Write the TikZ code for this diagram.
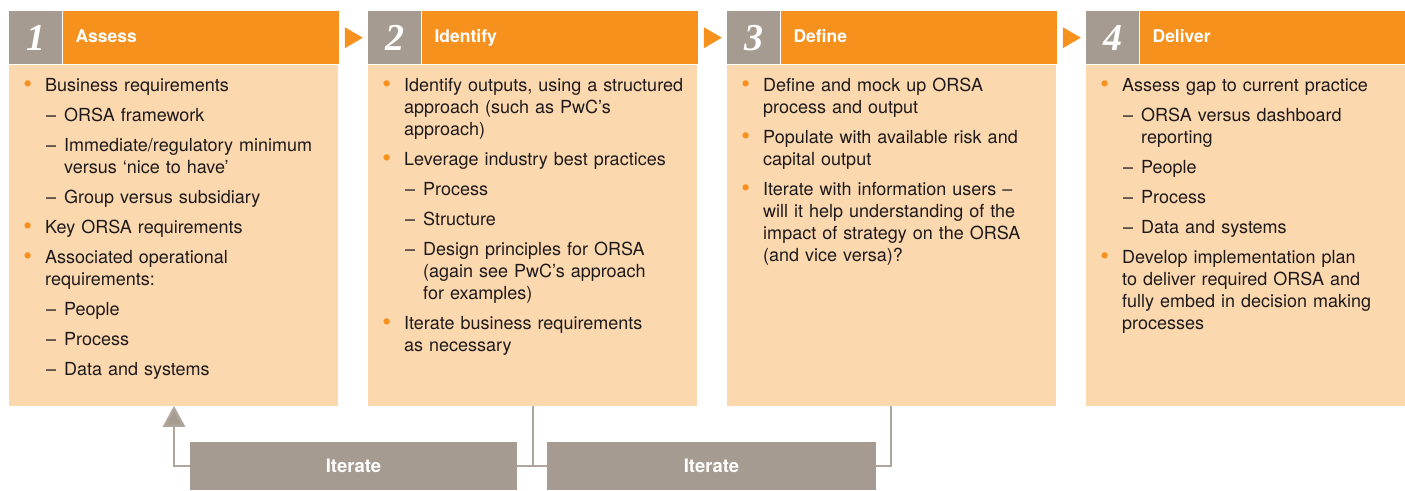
\documentclass[tikz,border=0pt]{standalone}
\usepackage{fontspec}
\setmainfont{TeX Gyre Heros}
\newfontfamily\stepnumfont{Liberation Serif}
\usetikzlibrary{arrows.meta,positioning}

\definecolor{pwcorange}{HTML}{F7911E}
\definecolor{pwcpeach}{HTML}{FCD8AF}
\definecolor{pwcgrey}{HTML}{A69B91}
\definecolor{pwcline}{HTML}{B0A59B}
\definecolor{pwctext}{HTML}{1E1A1B}

% list entries: orange bullet, dash for sub-points
\newcommand{\bpoint}{\par\leftskip=36pt\noindent\llap{\raisebox{-1.2pt}{\textcolor{pwcorange}{\fontsize{25}{22}\selectfont\textbullet}}\hskip 13pt}\strut}
\newcommand{\dpoint}{\par\leftskip=55pt\noindent\llap{--\hskip 8pt}\strut}

\begin{document}
\begin{tikzpicture}[x=1pt,y=-1pt,
  numbox/.style={anchor=north west,fill=pwcgrey,minimum width=53pt,minimum height=53pt,inner sep=0pt,text=white,font=\stepnumfont\bfseries\itshape\fontsize{38}{38}\selectfont},
  headbox/.style={anchor=west,fill=pwcorange,minimum height=53pt,inner xsep=13pt,inner ysep=0pt,text height=12.5pt,text depth=3.5pt,align=left,text=white,font=\bfseries\fontsize{17.5}{20}\selectfont},
  bodybox/.style={anchor=north west,fill=pwcpeach,minimum height=341pt,inner sep=0pt},
  itemlist/.style={anchor=north west,inner sep=0pt,text width=360pt,align=left,text=pwctext,font=\fontsize{18}{22}\selectfont\setlength{\parskip}{8pt}},
  iterbox/.style={fill=pwcgrey,minimum height=48pt,inner sep=0pt,text=white,font=\bfseries\fontsize{18.5}{20}\selectfont},
  loopline/.style={draw=pwcline,line width=2.5pt},
  stepmark/.style={fill=pwcorange}
]
\useasboundingbox (0,0) rectangle (1405,490);

% step 1
\node[numbox] (n1) at (9,11) {1};
\node[headbox,text width=250pt] (h1) at (n1.east) {Assess};
\node[bodybox,minimum width=329pt] (b1) at (n1.south west) {};
\node[itemlist] (l1) at ([yshift=3pt]b1.north west) {
\bpoint Business requirements
\dpoint ORSA framework
\dpoint Immediate/regulatory minimum\\ versus ‘nice to have’
\dpoint Group versus subsidiary
\bpoint Key ORSA requirements
\bpoint Associated operational\\ requirements:
\dpoint People
\dpoint Process
\dpoint Data and systems\par
};

% step 2
\node[numbox] (n2) at (368,11) {2};
\node[headbox,text width=250pt] (h2) at (n2.east) {Identify};
\node[bodybox,minimum width=329pt] (b2) at (n2.south west) {};
\node[itemlist] (l2) at ([yshift=3pt]b2.north west) {
\bpoint Identify outputs, using a structured\\ approach (such as PwC’s\\ approach)
\bpoint Leverage industry best practices
\dpoint Process
\dpoint Structure
\dpoint Design principles for ORSA\\ (again see PwC’s approach\\ for examples)
\bpoint Iterate business requirements\\ as necessary\par
};

% step 3
\node[numbox] (n3) at (727,11) {3};
\node[headbox,text width=250pt] (h3) at (n3.east) {Define};
\node[bodybox,minimum width=329pt] (b3) at (n3.south west) {};
\node[itemlist] (l3) at ([yshift=3pt]b3.north west) {
\bpoint Define and mock up ORSA\\ process and output
\bpoint Populate with available risk and\\ capital output
\bpoint Iterate with information users --\\ will it help understanding of the\\ impact of strategy on the ORSA\\ (and vice versa)?\par
};

% step 4
\node[numbox] (n4) at (1086,11) {4};
\node[headbox,text width=240pt] (h4) at (n4.east) {Deliver};
\node[bodybox,minimum width=319pt] (b4) at (n4.south west) {};
\node[itemlist] (l4) at ([yshift=3pt]b4.north west) {
\bpoint Assess gap to current practice
\dpoint ORSA versus dashboard\\ reporting
\dpoint People
\dpoint Process
\dpoint Data and systems
\bpoint Develop implementation plan\\ to deliver required ORSA and\\ fully embed in decision making\\ processes\par
};

% arrows between the headers
\foreach \h in {h1,h2,h3}
  \fill[stepmark] ([xshift=6pt,yshift=10.5pt]\h.east) -- ([xshift=24pt]\h.east) -- ([xshift=6pt,yshift=-10.5pt]\h.east) -- cycle;

% iteration loop
\node[iterbox,minimum width=327pt] (it1) at (353.5,466) {Iterate};
\node[iterbox,minimum width=329pt] (it2) at (711.5,466) {Iterate};
\coordinate (r1) at ([xshift=165pt]b1.south west);
\coordinate (j2) at ([xshift=165pt]b2.south west);
\coordinate (j3) at ([xshift=164pt]b3.south west);

\draw[loopline,-{Triangle[width=22pt,length=21pt,fill=pwcgrey]}] (it1.west) -| (r1);
\draw[loopline] (j2) -- (j2 |- it1.east);
\draw[loopline] (it1.east) -- (it2.west);
\draw[loopline] (j3) |- (it2.east);

\end{tikzpicture}
\end{document}
